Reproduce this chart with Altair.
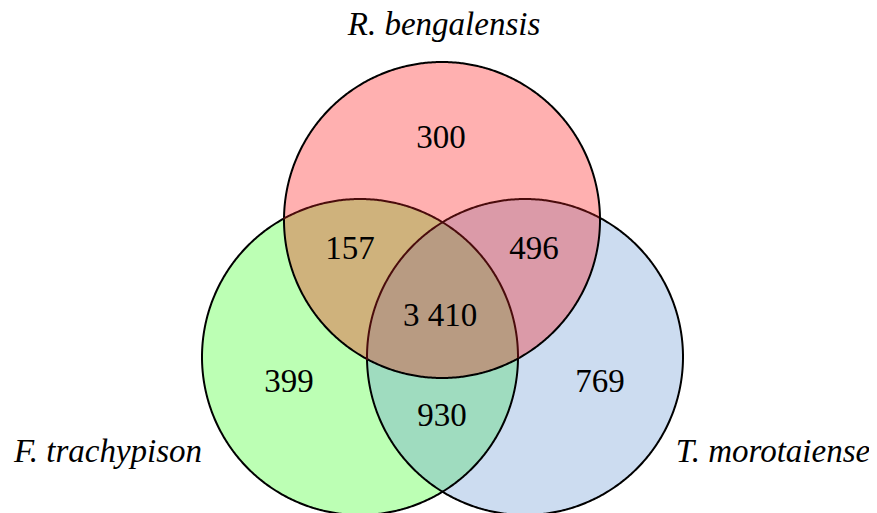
import altair as alt
import numpy as np
import pandas as pd

# ---- data ----
set_names = ["R. bengalensis", "F. trachypison", "T. morotaiense"]
region_keys = ["100", "010", "001", "110", "101", "011", "111"]
region_counts = ["300", "399", "769", "157", "496", "930", "3 410"]
region_colors = ["#ffb0b0", "#bcffb4", "#ccdcf0", "#cfb27c", "#db9aa8", "#9fdcbf", "#b89b82"]

# ---- layout (screen pixel coordinates) ----
circles = [(442.0, 220.0, 158.0), (360.0, 357.0, 158.0), (525.0, 357.0, 158.0)]
count_pos = {"100": (441, 138), "010": (289, 382), "001": (600, 382), "110": (350, 249),
             "101": (534, 249), "011": (442, 416), "111": (440, 316)}
name_pos = [(444, 25), (108, 452), (773, 452)]

W, H = 861, 505
X0, Y0 = 8, 8


def inside(p, c):
    return (p[0] - c[0]) ** 2 + (p[1] - c[1]) ** 2 < c[2] ** 2 - 1e-6


def intersections(a, b):
    (x1, y1, r1), (x2, y2, r2) = a, b
    d = np.hypot(x2 - x1, y2 - y1)
    aa = (r1 ** 2 - r2 ** 2 + d ** 2) / (2 * d)
    h = np.sqrt(max(r1 ** 2 - aa ** 2, 0))
    xm = x1 + aa * (x2 - x1) / d
    ym = y1 + aa * (y2 - y1) / d
    return [(xm + h * (y2 - y1) / d, ym - h * (x2 - x1) / d),
            (xm - h * (y2 - y1) / d, ym + h * (x2 - x1) / d)]


# split each circle into arcs
arcs = []  # (region_key_inside, region_key_outside, points)
for i, c in enumerate(circles):
    angs = []
    for j, o in enumerate(circles):
        if j == i:
            continue
        for p in intersections(c, o):
            angs.append(np.arctan2(p[1] - c[1], p[0] - c[0]))
    angs = sorted(a % (2 * np.pi) for a in angs)
    for k in range(len(angs)):
        a0 = angs[k]
        a1 = angs[(k + 1) % len(angs)]
        if a1 <= a0:
            a1 += 2 * np.pi
        t = np.linspace(a0, a1, 80)
        pts = [(c[0] + c[2] * np.cos(v), c[1] + c[2] * np.sin(v)) for v in t]
        mid = (c[0] + c[2] * np.cos((a0 + a1) / 2), c[1] + c[2] * np.sin((a0 + a1) / 2))
        mem = [1 if (j != i and inside(mid, circles[j])) else 0 for j in range(3)]
        inn = mem.copy()
        inn[i] = 1
        arcs.append(("".join(map(str, inn)), "".join(map(str, mem)), pts))


def chain(key):
    segs = [a[2] for a in arcs if a[0] == key or a[1] == key]
    poly = list(segs.pop(0))
    while segs:
        end = poly[-1]
        best, rev, bd = None, False, 1e9
        for n, s in enumerate(segs):
            d0 = np.hypot(s[0][0] - end[0], s[0][1] - end[1])
            d1 = np.hypot(s[-1][0] - end[0], s[-1][1] - end[1])
            if d0 < bd:
                best, rev, bd = n, False, d0
            if d1 < bd:
                best, rev, bd = n, True, d1
        s = segs.pop(best)
        poly.extend(reversed(s) if rev else s)
    return poly


rows = []
for key in region_keys:
    for o, (x, y) in enumerate(chain(key)):
        rows.append({"region": key, "order": o, "x": x, "y": y})
regions_df = pd.DataFrame(rows)

# outlines
orows = []
seg = 0
for i, c in enumerate(circles):
    t = np.linspace(0, 2 * np.pi, 721)
    prev = None
    for o, v in enumerate(t):
        p = (c[0] + c[2] * np.cos(v), c[1] + c[2] * np.sin(v))
        dark = i > 0 and inside(p, circles[0])
        if prev is not None and dark != prev:
            orows.append({"seg": seg + 1, "order": o - 1, "x": last[0], "y": last[1],
                          "kind": "in" if dark else "out"})
            seg += 1
        orows.append({"seg": seg, "order": o, "x": p[0], "y": p[1], "kind": "in" if dark else "out"})
        prev, last = dark, p
    seg += 1
outline_df = pd.DataFrame(orows)

count_df = pd.DataFrame({"label": region_counts,
                         "x": [count_pos[k][0] for k in region_keys],
                         "y": [count_pos[k][1] for k in region_keys]})
name_df = pd.DataFrame({"label": set_names,
                        "x": [p[0] for p in name_pos],
                        "y": [p[1] for p in name_pos]})

xs = alt.Scale(domain=[X0, X0 + W], range=[0, W], nice=False, zero=False)
ys = alt.Scale(domain=[Y0, Y0 + H], range=[0, H], nice=False, zero=False)
X = alt.X("x:Q", scale=xs, axis=None)
Y = alt.Y("y:Q", scale=ys, axis=None)

fills = alt.Chart(regions_df).mark_line(filled=True, strokeWidth=0, opacity=1).encode(
    x=X, y=Y, order="order:Q", detail="region:N",
    color=alt.Color("region:N", scale=alt.Scale(domain=region_keys, range=region_colors), legend=None),
)

outlines = alt.Chart(outline_df).mark_line(strokeWidth=2).encode(
    x=X, y=Y, order="order:Q", detail="seg:N",
    stroke=alt.Stroke("kind:N", scale=alt.Scale(domain=["out", "in"], range=["#000000", "#4a0c0c"]), legend=None),
)

counts = alt.Chart(count_df).mark_text(font="Liberation Serif", fontSize=33, color="black",
                                       baseline="middle", align="center").encode(
    x=X, y=Y, text="label:N")

names = alt.Chart(name_df).mark_text(font="Liberation Serif", fontSize=33, fontStyle="italic",
                                     color="black", baseline="middle", align="center").encode(
    x=X, y=Y, text="label:N")

chart = alt.layer(fills, outlines, counts, names).properties(
    width=W, height=H, padding=0, autosize=alt.AutoSizeParams(type="none")
).configure_view(stroke=None)

chart.save("out.html", embed_options={"renderer": "svg", "actions": False})
